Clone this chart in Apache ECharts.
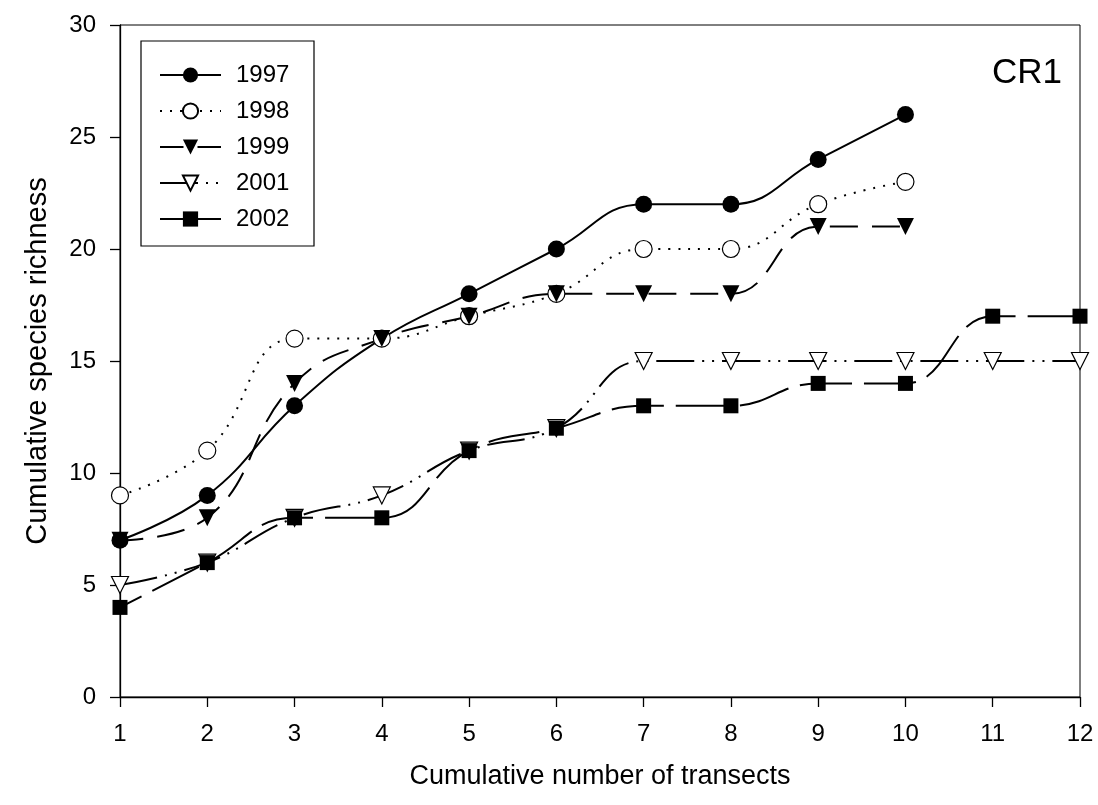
<!DOCTYPE html>
<html>
<head>
<meta charset="utf-8">
<script src="https://cdn.jsdelivr.net/npm/echarts@6/dist/echarts.min.js"></script>
<style>
  html, body { margin: 0; padding: 0; background: #fff; }
  #chart { width: 1098px; height: 805px; }
</style>
</head>
<body>
<div id="chart"></div>
<script>
// Cumulative number of transects (x positions)
const transects = [1, 2, 3, 4, 5, 6, 7, 8, 9, 10, 11, 12];
const yTicks = [0, 5, 10, 15, 20, 25, 30];

// Cumulative species richness per year
const years = ['1997', '1998', '1999', '2001', '2002'];
const s1997 = [7, 9, 13, 16, 18, 20, 22, 22, 24, 26];
const s1998 = [9, 11, 16, 16, 17, 18, 20, 20, 22, 23];
const s1999 = [7, 8, 14, 16, 17, 18, 18, 18, 21, 21];
const s2001 = [5, 6, 8, 9, 11, 12, 15, 15, 15, 15, 15, 15];
const s2002 = [4, 6, 8, 8, 11, 12, 13, 13, 14, 14, 17, 17];

const FONT = "'Liberation Sans', Arial, Helvetica, sans-serif";

function pairs(values) {
  return values.map((v, i) => [transects[i], v]);
}

// marker and line appearance for each year
const looks = {
  '1997': { symbol: 'circle', rotate: 0, fill: '#000', size: 17, dash: 'solid', offset: 0 },
  '1998': { symbol: 'circle', rotate: 0, fill: '#fff', size: 17, dash: [2, 8], offset: 0 },
  '1999': { symbol: 'triangle', rotate: 180, fill: '#000', size: 17, dash: [28, 14], offset: 4.5 },
  '2001': { symbol: 'triangle', rotate: 180, fill: '#fff', size: 17, dash: [38, 8, 2, 8, 2, 8], offset: 0 },
  '2002': { symbol: 'rect', rotate: 0, fill: '#000', size: 15, dash: [52, 12], offset: 27.5 }
};
const valuesByYear = { '1997': s1997, '1998': s1998, '1999': s1999, '2001': s2001, '2002': s2002 };

const series = years.map(y => {
  const lk = looks[y];
  return {
    name: y,
    type: 'line',
    data: pairs(valuesByYear[y]),
    smooth: 0.45,
    clip: false,
    symbol: lk.symbol,
    symbolRotate: lk.rotate,
    symbolSize: lk.size,
    showAllSymbol: true,
    lineStyle: { color: '#000', width: 2, type: lk.dash, dashOffset: lk.offset, cap: 'butt' },
    itemStyle: { color: lk.fill, borderColor: '#000', borderWidth: lk.fill === '#fff' ? 1.2 : 0, opacity: 1 },
    emphasis: { disabled: true },
    animation: false
  };
});

const chart = echarts.init(document.getElementById('chart'), null, { renderer: 'canvas' });
chart.setOption({
  backgroundColor: '#fff',
  animation: false,
  textStyle: { fontFamily: FONT },
  grid: {
    left: 120, right: 18, top: 25, bottom: 108,
    show: true, borderColor: '#000', borderWidth: 1, backgroundColor: 'transparent'
  },
  xAxis: {
    type: 'value',
    min: 1, max: 12, interval: 1,
    name: 'Cumulative number of transects',
    nameLocation: 'middle',
    nameGap: 66,
    nameTextStyle: { fontSize: 27, color: '#000', fontFamily: FONT },
    axisLine: { show: true, onZero: false, lineStyle: { color: '#000', width: 1.3 } },
    axisTick: { show: true, inside: false, length: 10, lineStyle: { color: '#000', width: 1.3 } },
    axisLabel: { fontSize: 24, color: '#000', margin: 25, fontFamily: FONT },
    splitLine: { show: false }
  },
  yAxis: {
    type: 'value',
    min: yTicks[0], max: yTicks[yTicks.length - 1], interval: 5,
    name: 'Cumulative species richness',
    nameLocation: 'middle',
    nameGap: 68,
    nameRotate: 90,
    nameTextStyle: { fontSize: 29, color: '#000', fontFamily: FONT },
    axisLine: { show: true, lineStyle: { color: '#000', width: 1.3 } },
    axisTick: { show: true, inside: false, length: 10, lineStyle: { color: '#000', width: 1.3 } },
    axisLabel: { fontSize: 24, color: '#000', margin: 24, fontFamily: FONT },
    splitLine: { show: false }
  },
  legend: {
    data: years,
    orient: 'vertical',
    left: 159,
    top: 63,
    itemWidth: 61,
    itemHeight: 19,
    itemGap: 12,
    padding: 0,
    z: 6,
    selectedMode: false,
    textStyle: { fontSize: 24, color: '#000', fontFamily: FONT, padding: [0, 0, 0, 10] }
  },
  graphic: [
    {
      type: 'rect',
      z: 3,
      shape: { x: 141, y: 41, width: 173, height: 205 },
      style: { fill: '#fff', stroke: '#000', lineWidth: 1.2 }
    },
    {
      type: 'text',
      z: 6,
      right: 36,
      top: 56,
      style: { text: 'CR1', fontSize: 35, fill: '#000', font: '35px ' + FONT }
    }
  ],
  series: series
});
</script>
</body>
</html>
